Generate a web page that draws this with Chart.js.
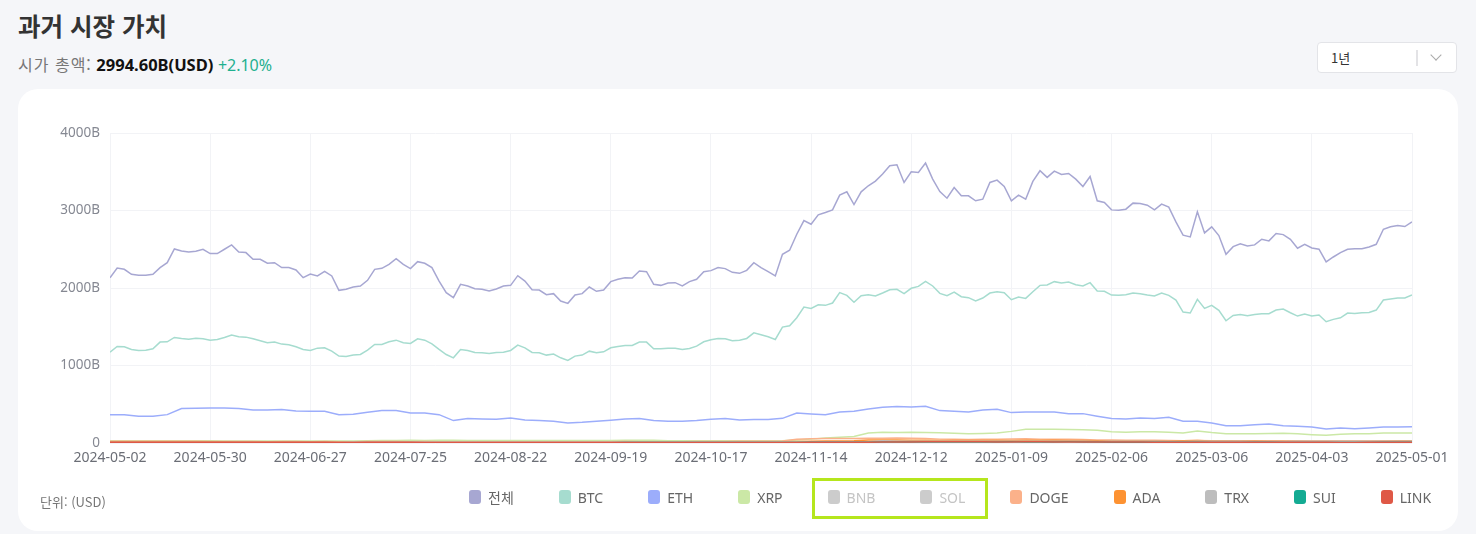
<!DOCTYPE html>
<html lang="ko">
<head>
<meta charset="utf-8">
<title>과거 시장 가치</title>
<script src="https://cdn.jsdelivr.net/npm/chart.js@4.4.1/dist/chart.umd.min.js"></script>
<style>
  html, body { margin: 0; padding: 0; }
  body { width: 1476px; height: 534px; background: #f5f6f9; position: relative; overflow: hidden;
         font-family: "Noto Sans", "Noto Sans CJK KR", sans-serif; }
  .title { position: absolute; left: 18px; top: 11px; font-size: 24.5px; line-height: 30px; font-weight: 700;
           color: #333; font-family: "Noto Sans CJK KR", sans-serif; }
  .sub { position: absolute; left: 18px; top: 53px; font-size: 16px; line-height: 22px; color: #777;
         font-family: "Noto Sans CJK KR", "Noto Sans", sans-serif; }
  .sub .lbl { letter-spacing: 1px; }
  .sub b { color: #111; font-family: "Noto Sans", sans-serif; font-size: 16.5px; }
  .sub .up { color: #1fb08f; font-family: "Noto Sans", sans-serif; }
  .select { position: absolute; left: 1317px; top: 42px; width: 140px; height: 31px; box-sizing: border-box;
            border: 1px solid #e3e4e8; border-radius: 4px; background: #fff; }
  .select .val { position: absolute; left: 13px; top: 5px; font-size: 13px; line-height: 20px; color: #333;
                 font-family: "Noto Sans CJK KR", sans-serif; }
  .select .bar { position: absolute; left: 98px; top: 7px; width: 2px; height: 16px; background: #e3e3e6; }
  .select .chev { position: absolute; left: 114px; top: 8px; width: 7px; height: 7px; border-right: 1.5px solid #aaa;
                  border-bottom: 1.5px solid #aaa; transform: rotate(45deg); }
  .card { position: absolute; left: 18px; top: 89px; width: 1440px; height: 442px; background: #fff; border-radius: 20px; }
  #wrap { position: absolute; left: 0; top: 0; width: 1476px; height: 534px; }
  .unit { position: absolute; left: 40px; top: 492px; font-size: 13px; line-height: 20px; color: #777;
          font-family: "Noto Sans CJK KR", "Noto Sans", sans-serif; }
  .legend { position: absolute; left: 469px; top: 487px; display: flex; align-items: center; height: 20px;
            font-size: 14px; color: #666; font-family: "Noto Sans", "Noto Sans CJK KR", sans-serif; }
  .legend .item { display: flex; align-items: center; margin-right: 45px; white-space: nowrap; }
  .legend .box { width: 12px; height: 14px; border-radius: 3px; margin-right: 7px; }
  .hl { position: absolute; left: 812px; top: 478px; width: 176px; height: 41px; border: 3px solid #b5e61d;
        box-sizing: border-box; }
</style>
</head>
<body>
<div class="title">과거 시장 가치</div>
<div class="sub"><span class="lbl">시가 총액:</span> <b>2994.60B(USD)</b> <span class="up">+2.10%</span></div>
<div class="select"><span class="val">1년</span><span class="bar"></span><span class="chev"></span></div>
<div class="card"></div>
<div id="wrap"><canvas id="marketChart"></canvas></div>
<div class="unit">단위: (USD)</div>
<div class="legend" id="legend"></div>
<div class="hl"></div>

<script>
// x = days since 2024-05-02, y = market cap in B USD
const xTickLabels = ['2024-05-02', '2024-05-30', '2024-06-27', '2024-07-25', '2024-08-22', '2024-09-19', '2024-10-17',
    '2024-11-14', '2024-12-12', '2025-01-09', '2025-02-06', '2025-03-06', '2025-04-03', '2025-05-01'];
const TICK_DAYS = 28;
const yTicks = [0, 1000, 2000, 3000, 4000];

// sampled every 2 days
const total = [
    2133, 2258, 2241, 2177, 2164, 2164, 2177, 2263, 2327, 2504, 2478, 2465, 2474, 2500,
    2444, 2444, 2500, 2556, 2465, 2457, 2370, 2370, 2319, 2327, 2263, 2263, 2233, 2133,
    2181, 2155, 2215, 2155, 1970, 1983, 2013, 2026, 2099, 2241, 2254, 2306, 2379, 2306,
    2250, 2340, 2319, 2263, 2090, 1940, 1875, 2047, 2026, 1991, 1983, 1961, 1987, 2026,
    2034, 2159, 2090, 1978, 1974, 1914, 1927, 1832, 1802, 1909, 1927, 2013, 1957, 1974,
    2082, 2112, 2133, 2129, 2220, 2211, 2047, 2034, 2064, 2069, 2026, 2082, 2112, 2211,
    2224, 2263, 2250, 2202, 2189, 2228, 2327, 2263, 2211, 2155, 2435, 2487, 2694, 2870,
    2823, 2944, 2974, 3008, 3198, 3241, 3077, 3241, 3319, 3379, 3470, 3577, 3590, 3362,
    3500, 3491, 3612, 3405, 3245, 3159, 3297, 3189, 3189, 3125, 3146, 3362, 3392, 3310,
    3125, 3198, 3146, 3375, 3513, 3427, 3508, 3465, 3478, 3405, 3310, 3439, 3125, 3103,
    3008, 3004, 3017, 3095, 3090, 3069, 3008, 3082, 3043, 2853, 2681, 2659, 2983, 2711,
    2789, 2677, 2435, 2534, 2569, 2543, 2556, 2629, 2608, 2702, 2689, 2629, 2513, 2564,
    2517, 2500, 2336, 2400, 2457, 2500, 2508, 2508, 2530, 2564, 2758, 2789, 2806, 2793,
    2853
];
const btc = [
    1172, 1246, 1241, 1207, 1194, 1198, 1215, 1302, 1306, 1362, 1349, 1340, 1353, 1345,
    1327, 1336, 1362, 1392, 1371, 1366, 1345, 1319, 1293, 1302, 1276, 1267, 1241, 1207,
    1194, 1224, 1228, 1185, 1121, 1116, 1134, 1142, 1198, 1271, 1271, 1306, 1327, 1293,
    1284, 1345, 1327, 1280, 1207, 1142, 1099, 1207, 1194, 1168, 1164, 1155, 1168, 1172,
    1194, 1263, 1228, 1168, 1164, 1134, 1147, 1099, 1065, 1121, 1134, 1185, 1164, 1177,
    1228, 1246, 1259, 1259, 1302, 1302, 1215, 1215, 1224, 1224, 1207, 1220, 1250, 1306,
    1332, 1349, 1345, 1319, 1327, 1349, 1422, 1396, 1371, 1336, 1496, 1513, 1616, 1754,
    1737, 1784, 1776, 1806, 1940, 1905, 1815, 1901, 1914, 1896, 1935, 1978, 1983, 1927,
    1996, 2021, 2086, 2026, 1931, 1901, 1948, 1888, 1875, 1832, 1871, 1935, 1952, 1940,
    1849, 1883, 1866, 1952, 2034, 2039, 2082, 2064, 2077, 2043, 2026, 2069, 1961, 1957,
    1909, 1905, 1914, 1935, 1927, 1909, 1896, 1935, 1905, 1845, 1690, 1677, 1853, 1737,
    1776, 1711, 1577, 1646, 1659, 1642, 1659, 1668, 1668, 1715, 1728, 1681, 1638, 1664,
    1638, 1651, 1565, 1595, 1616, 1677, 1672, 1681, 1685, 1715, 1845, 1858, 1871, 1871,
    1909
];

// sampled every 4 days
const eth = [
    366, 366, 345, 345, 366, 444, 448,
    453, 453, 444, 427, 427, 431, 414,
    409, 409, 366, 371, 397, 418, 418,
    388, 388, 366, 289, 315, 310, 306,
    323, 297, 289, 280, 259, 267, 280,
    293, 310, 315, 289, 280, 280, 289,
    306, 315, 297, 302, 302, 318, 388,
    375, 366, 401, 409, 440, 461, 470,
    466, 474, 418, 409, 401, 427, 435,
    392, 401, 401, 401, 379, 379, 345,
    315, 310, 323, 315, 332, 280, 280,
    259, 224, 224, 237, 246, 224, 216,
    207, 181, 194, 185, 194, 207, 207,
    211
];
const xrp = [
    29, 29, 30, 29, 30, 29, 28,
    28, 27, 27, 26, 26, 26, 27,
    26, 25, 25, 27, 29, 33, 33,
    34, 33, 34, 34, 33, 33, 32,
    32, 32, 33, 33, 33, 33, 33,
    33, 35, 36, 34, 30, 30, 30,
    30, 30, 30, 29, 29, 30, 40,
    50, 65, 73, 85, 130, 140, 135,
    138, 136, 132, 125, 118, 122, 128,
    150, 178, 178, 176, 175, 172, 165,
    145, 138, 145, 145, 140, 130, 155,
    135, 120, 118, 120, 122, 125, 118,
    108, 100, 112, 118, 120, 128, 130,
    130
];
const doge = [
    22, 23, 22, 21, 23, 22, 21,
    20, 19, 18, 18, 17, 18, 18,
    17, 18, 17, 16, 18, 19, 18,
    17, 18, 15, 15, 14, 15, 15,
    15, 15, 14, 15, 16, 17, 16,
    16, 18, 17, 17, 16, 17, 18,
    19, 20, 23, 24, 23, 26, 48,
    55, 58, 57, 58, 62, 60, 64,
    60, 58, 50, 48, 46, 47, 50,
    52, 55, 50, 49, 48, 45, 40,
    38, 37, 36, 37, 33, 30, 32,
    30, 28, 26, 25, 26, 27, 26,
    24, 23, 22, 23, 24, 25, 26,
    26
];
const ada = [
    16, 16, 16, 16, 16, 16, 15,
    15, 15, 14, 14, 14, 13, 13,
    14, 14, 14, 15, 15, 14, 14,
    14, 14, 12, 12, 12, 12, 12,
    13, 12, 12, 12, 12, 12, 12,
    12, 12, 13, 12, 12, 12, 12,
    12, 12, 12, 12, 12, 14, 20,
    21, 25, 27, 30, 38, 40, 38,
    37, 36, 32, 33, 33, 31, 34,
    33, 35, 34, 34, 33, 32, 28,
    27, 26, 27, 25, 24, 28, 33,
    26, 25, 25, 25, 24, 23, 23,
    22, 21, 22, 22, 22, 24, 25,
    25
];
const trx = [
    10.5, 10.5, 11, 11, 11, 11, 11,
    11, 11, 11, 11, 11, 11, 11,
    11, 11, 11, 12, 12, 12, 12,
    12, 12, 13, 13, 14, 14, 14,
    14, 14, 14, 14, 14, 13, 13,
    13, 13, 13, 14, 14, 14, 14,
    14, 14, 14, 14, 14, 14, 14,
    14, 15, 15, 16, 17, 30, 24,
    22, 22, 22, 21, 22, 22, 22,
    22, 22, 21, 21, 21, 21, 20,
    21, 21, 21, 21, 20, 20, 21,
    21, 21, 21, 20, 20, 20, 21,
    21, 21, 21, 21, 22, 22, 23,
    23
];
const sui = [
    1.3, 1.2, 1.3, 1.2, 1.1, 1.1, 1.2,
    1.1, 1.1, 1.0, 1.0, 0.9, 0.9, 0.9,
    1.0, 1.0, 1.1, 1.3, 1.4, 1.4, 1.2,
    1.3, 1.3, 1.2, 1.4, 2.1, 2.3, 2.6,
    2.5, 2.4, 2.5, 3.0, 3.8, 4.3, 4.5,
    4.8, 4.9, 5.0, 5.4, 5.5, 5.2, 5.3,
    5.6, 5.8, 5.5, 5.4, 5.7, 6.2, 7.7,
    9.2, 10, 9.0, 10.5, 11, 12, 13,
    13, 12.5, 11.8, 12, 13.5, 13.5, 14,
    15, 14, 13.5, 14, 15, 14.5, 12.5,
    10.5, 10, 9.5, 9, 8.5, 8.3, 8.2,
    8, 7.8, 7.8, 8.5, 8.3, 7.5, 7.2,
    6.8, 6.5, 6.5, 7, 7.5, 10, 10.5,
    11
];
const link = [
    8.2, 8.5, 9.5, 10, 10.5, 11, 10.5,
    10.5, 10, 10.5, 9.5, 9, 8.8, 8.6,
    8.5, 8.4, 8.0, 8.0, 8.2, 8.5, 8.4,
    8.1, 7.8, 6.6, 6.5, 6.3, 6.3, 6.6,
    6.6, 6.4, 6.3, 6.6, 6.5, 6.8, 7.0,
    7.1, 6.8, 6.7, 6.9, 7.0, 7.1, 6.9,
    7.0, 7.2, 6.9, 6.8, 6.6, 7.0, 7.8,
    8.5, 8.9, 8.8, 9.5, 11, 12.5, 13.5,
    14, 15, 16, 17, 16, 15, 14.5,
    14, 15, 15, 14, 13.5, 14, 13,
    12.5, 12.5, 11.5, 11, 10.5, 11, 10.5,
    9.5, 9.8, 9.5, 9.2, 9, 9.3, 9.1,
    8.6, 8.2, 8, 7.9, 8.6, 8.8, 9.5,
    9.6
];

const names = ['전체', 'BTC', 'ETH', 'XRP', 'BNB', 'SOL', 'DOGE', 'ADA', 'TRX', 'SUI', 'LINK'];
const colors = ['#a7a7d2', '#a6dccf', '#9cadfb', '#cbe8a6', '#cccccc', '#cccccc', '#fbb18a', '#fd9232', '#bdbdbd', '#14ab93', '#df5846'];
const series = [total, btc, eth, xrp, [], [], doge, ada, trx, sui, link];
const stepDays = [2, 2, 4, 4, 4, 4, 4, 4, 4, 4, 4];
const hiddenNames = ['BNB', 'SOL'];

const datasets = names.map((name, i) => ({
    label: name,
    data: series[i].map((v, k) => ({ x: k * stepDays[i], y: v })),
    borderColor: colors[i],
    backgroundColor: colors[i],
    borderWidth: 1.5,
    pointRadius: 0,
    tension: 0,
    hidden: hiddenNames.includes(name),
    order: names.length - i   // later series drawn on top
}));

const GRID = '#f2f3f6';

new Chart(document.getElementById('marketChart'), {
    type: 'line',
    data: { datasets: datasets },
    options: {
        responsive: true,
        maintainAspectRatio: false,
        animation: false,
        layout: { padding: { top: 133, left: 0, right: 0, bottom: 0 } },
        plugins: {
            legend: { display: false },
            tooltip: { enabled: false }
        },
        scales: {
            x: {
                type: 'linear',
                min: 0,
                max: (xTickLabels.length - 1) * TICK_DAYS,
                border: { display: false },
                grid: { drawTicks: false, color: GRID },
                afterBuildTicks: s => { s.ticks = xTickLabels.map((t, i) => ({ value: i * TICK_DAYS })); },
                ticks: {
                    maxRotation: 0,
                    autoSkip: false,
                    padding: 7,
                    color: '#6b6e76',
                    font: { family: 'Noto Sans', size: 14 },
                    callback: v => xTickLabels[Math.round(v / TICK_DAYS)]
                },
                afterFit: s => { s.height = 91; s.paddingRight = 64; }
            },
            y: {
                min: yTicks[0],
                max: yTicks[yTicks.length - 1],
                border: { display: false },
                grid: { drawTicks: false, color: GRID },
                afterBuildTicks: s => { s.ticks = yTicks.map(v => ({ value: v })); },
                ticks: {
                    padding: 10,
                    color: '#858892',
                    font: { family: 'Noto Sans', size: 13.5 },
                    callback: v => (v === 0 ? '0' : v + 'B')
                },
                afterFit: s => { s.width = 110; }
            }
        }
    }
});

// legend in the page, hidden series shown in grey
const legend = document.getElementById('legend');
names.forEach((name, i) => {
    const off = hiddenNames.includes(name);
    const item = document.createElement('span');
    item.className = 'item';
    item.innerHTML = '<span class="box" style="background:' + (off ? '#cccccc' : colors[i]) + '"></span>' +
        '<span style="color:' + (off ? '#c4c4c4' : '#666') + '">' + name + '</span>';
    legend.appendChild(item);
});
</script>
</body>
</html>
